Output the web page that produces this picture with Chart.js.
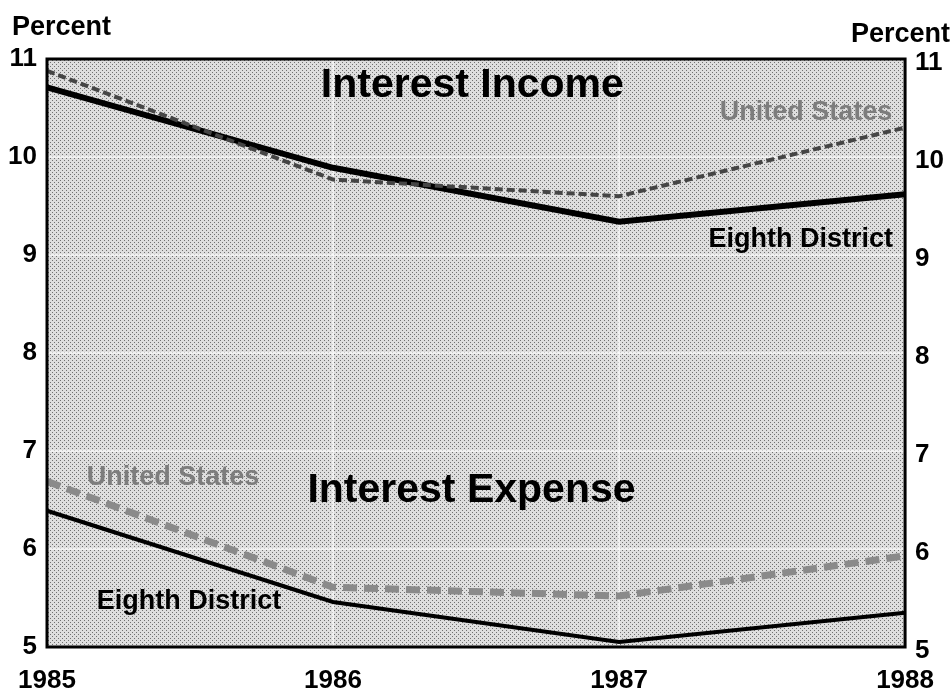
<!DOCTYPE html>
<html>
<head>
<meta charset="utf-8">
<title>Interest Income and Interest Expense</title>
<script src="https://cdn.jsdelivr.net/npm/chart.js@4.4.1/dist/chart.umd.min.js"></script>
<style>
  html, body { margin: 0; padding: 0; background: #fff; }
  #wrap { width: 952px; height: 695px; }
</style>
</head>
<body>
<div id="wrap"><canvas id="chart" width="952" height="695"></canvas></div>
<script>
  // values (percent)
  const years = ["1985", "1986", "1987", "1988"];
  const incomeEighth = [10.71, 9.89, 9.34, 9.62];
  const incomeUS = [10.88, 9.77, 9.6, 10.3];
  const expenseEighth = [6.39, 5.46, 5.05, 5.35];
  const expenseUS = [6.69, 5.61, 5.52, 5.93];
  const percentMin = 5;
  const percentMax = 11;

  const FONT = "'Liberation Sans', Arial, Helvetica, sans-serif";

  // text placed in data space: x = category index, y = percent
  const notes = [
    { text: "Interest Income", x: 1.487, y: 10.61, align: "center", size: 41, color: "#000" },
    { text: "Interest Expense", x: 1.484, y: 6.48, align: "center", size: 41, color: "#000" },
    { text: "United States", x: 2.955, y: 10.38, align: "right", size: 27, color: "#7d7d7d" },
    { text: "Eighth District", x: 2.958, y: 9.08, align: "right", size: 27, color: "#000" },
    { text: "United States", x: 0.139, y: 6.65, align: "left", size: 27, color: "#7d7d7d" },
    { text: "Eighth District", x: 0.174, y: 5.39, align: "left", size: 27, color: "#000" },
  ];

  function stipple() {
    const c = document.createElement("canvas");
    c.width = 4;
    c.height = 4;
    const g = c.getContext("2d");
    g.fillStyle = "#dedede";
    g.fillRect(0, 0, 4, 4);
    g.fillStyle = "#707070";
    g.fillRect(0, 0, 1, 1);
    g.fillRect(2, 2, 1, 1);
    return g.createPattern(c, "repeat");
  }

  const backdrop = {
    id: "backdrop",
    beforeDraw(chart) {
      const { ctx, chartArea: a } = chart;
      ctx.save();
      ctx.fillStyle = "#fff";
      ctx.fillRect(0, 0, chart.width, chart.height);
      ctx.fillStyle = stipple();
      ctx.fillRect(a.left, a.top, a.right - a.left, a.bottom - a.top);
      ctx.restore();
    },
    afterDatasetsDraw(chart) {
      const { ctx, chartArea: a } = chart;
      ctx.save();
      ctx.strokeStyle = "#000";
      ctx.lineWidth = 3;
      ctx.strokeRect(a.left, a.top, a.right - a.left, a.bottom - a.top);
      ctx.restore();
    },
  };

  const labels = {
    id: "labels",
    afterDraw(chart) {
      const { ctx, scales } = chart;
      ctx.save();
      ctx.textBaseline = "alphabetic";
      notes.forEach((n) => {
        ctx.font = `bold ${n.size}px ${FONT}`;
        ctx.fillStyle = n.color;
        ctx.textAlign = n.align;
        ctx.fillText(n.text, scales.x.getPixelForValue(n.x), scales.y.getPixelForValue(n.y));
      });
      // unit captions above both value axes
      ctx.font = `bold 27px ${FONT}`;
      ctx.fillStyle = "#000";
      ctx.textAlign = "left";
      ctx.fillText("Percent", 12, 35);
      ctx.textAlign = "right";
      ctx.fillText("Percent", 950, 42);
      ctx.restore();
    },
  };

  const tickFont = { family: FONT, size: 26, weight: "bold" };

  new Chart(document.getElementById("chart"), {
    type: "line",
    data: {
      labels: years,
      datasets: [
        {
          label: "United States (income)",
          data: incomeUS,
          borderColor: "#454545",
          borderWidth: 4,
          borderDash: [8, 4],
        },
        {
          label: "Eighth District (income)",
          data: incomeEighth,
          borderColor: "#000",
          borderWidth: 6,
        },
        {
          label: "United States (expense)",
          data: expenseUS,
          borderColor: "#8a8a8a",
          borderWidth: 7,
          borderDash: [14, 7],
        },
        {
          label: "Eighth District (expense)",
          data: expenseEighth,
          borderColor: "#000",
          borderWidth: 4,
        },
      ],
    },
    options: {
      responsive: false,
      animation: false,
      devicePixelRatio: 1,
      layout: { padding: { top: 59, left: 0, right: 0, bottom: 0 } },
      elements: {
        point: { radius: 0 },
        line: { tension: 0, borderJoinStyle: "miter", borderCapStyle: "butt" },
      },
      plugins: { legend: { display: false }, tooltip: { enabled: false } },
      scales: {
        x: {
          offset: false,
          grid: { color: "rgba(255,255,255,0.6)", lineWidth: 2, drawTicks: false },
          border: { display: false },
          ticks: { color: "#000", font: tickFont, padding: 18, maxRotation: 0, autoSkip: false },
          afterFit: (s) => { s.height = 48; },
        },
        y: {
          position: "left",
          min: percentMin,
          max: percentMax,
          grid: { color: "rgba(255,255,255,0.6)", lineWidth: 2, drawTicks: false },
          border: { display: false },
          ticks: { stepSize: 1, color: "#000", font: tickFont, padding: 10 },
          afterFit: (s) => { s.width = 47; },
        },
        y2: {
          position: "right",
          min: percentMin,
          max: percentMax,
          grid: { display: false, drawTicks: false },
          border: { display: false },
          ticks: { stepSize: 1, color: "#000", font: tickFont, padding: 10, labelOffset: 4 },
          afterFit: (s) => { s.width = 42; },
        },
      },
    },
    plugins: [backdrop, labels],
  });
</script>
</body>
</html>
